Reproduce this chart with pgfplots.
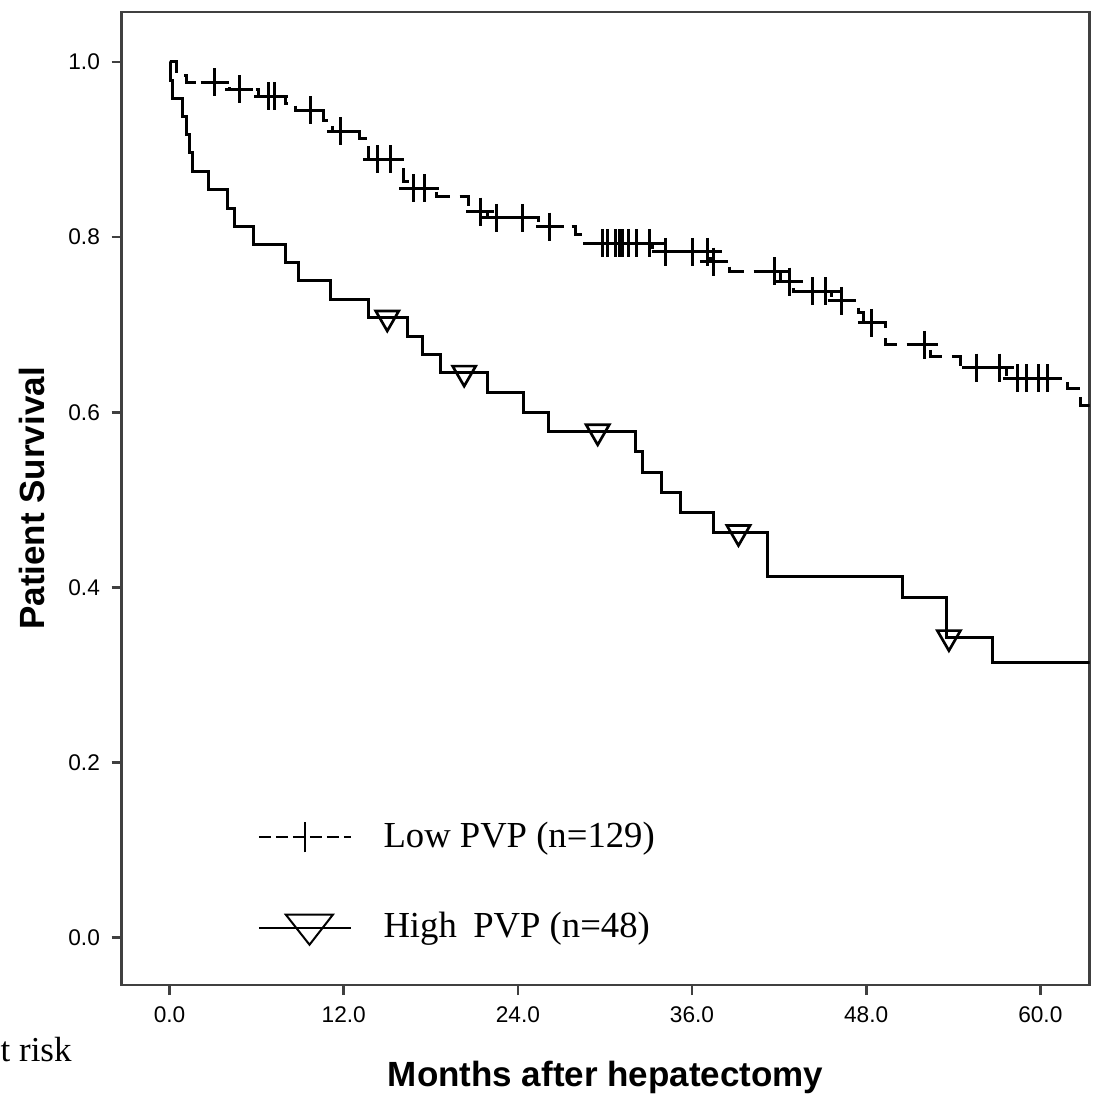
\documentclass[border=0pt]{standalone}
\usepackage{fontspec}
\setmainfont{Liberation Sans}
\newfontfamily\serifrm{Liberation Serif}
\usepackage{pgfplots}
\pgfplotsset{compat=1.18}
\begin{document}
\begin{tikzpicture}
\begin{axis}[
  scale only axis,
  width=290.4pt, height=291.9pt,
  xmin=-3.3, xmax=63.4,
  ymin=-0.054, ymax=1.057,
  xtick={0,12,24,36,48,60},
  ytick={0,0.2,0.4,0.6,0.8,1.0},
  tick pos=left,
  tick align=outside,
  major tick length=3pt,
  /pgf/number format/assume math mode=true,
  xticklabel style={/pgf/number format/.cd, fixed, fixed zerofill, precision=1},
  yticklabel style={/pgf/number format/.cd, fixed, fixed zerofill, precision=1},
  ticklabel style={font=\fontsize{6.8}{8}\selectfont},
  axis line style={draw=black!75, line width=0.8pt},
  every tick/.style={black!75, line width=0.8pt},
  xlabel={Months after hepatectomy},
  ylabel={Patient Survival},
  label style={font=\bfseries\fontsize{10.5}{12}\selectfont},
  xlabel style={at={(axis description cs:0.5,-0.1048)}, anchor=base},
  ylabel style={at={(axis description cs:-0.0928,0.5)}, anchor=center},
  legend style={draw=none, fill=none, at={(axis description cs:0.14,0.175)},
    anchor=north west, font=\serifrm\fontsize{11}{13}\selectfont,
    row sep=14pt, inner sep=0pt,
    /tikz/every odd column/.append style={column sep=7.5pt}},
  legend cell align=left,
]

% Low PVP (n=129), dashed Kaplan-Meier curve
\addplot[const plot, black, line width=0.9pt, dash pattern=on 5.5pt off 3pt,
  legend image code/.code={
    \draw[line width=0.6pt, dash pattern=on 3.6pt off 1.5pt] (0pt,0pt) -- (27.6pt,0pt);
    \draw[line width=0.6pt, solid] (13.8pt,-4.5pt) -- (13.8pt,4.5pt);
  }] coordinates {
  (0,1.0) (0.5,0.984) (1.2,0.977) (4.1,0.969) (6.1,0.961) (8.0,0.953)
  (8.7,0.945) (10.6,0.933) (11.2,0.921) (13.1,0.913) (13.7,0.889)
  (16.1,0.864) (16.7,0.856) (18.4,0.846) (20.6,0.829) (21.9,0.822)
  (25.4,0.812) (28.0,0.803) (28.3,0.793) (33.3,0.783) (37.3,0.772)
  (38.6,0.761) (42.1,0.749) (43.0,0.738) (45.6,0.727) (47.5,0.714)
  (47.8,0.702) (49.3,0.677) (52.4,0.664) (54.5,0.651) (57.7,0.639)
  (61.9,0.627) (62.8,0.608) (64,0.608)
};
\addlegendentry{Low PVP (n=129)}

% High PVP (n=48), solid curve
\addplot[const plot, black, line width=0.9pt, solid,
  legend image code/.code={
    \draw[line width=0.6pt, solid] (0pt,0pt) -- (27.6pt,0pt);
    \draw[line width=0.6pt, solid] (8.1pt,3.9pt) -- (22.2pt,3.9pt) -- (15.2pt,-5.1pt) -- cycle;
  }] coordinates {
  (0,1.0) (0.05,0.979) (0.2,0.958) (0.9,0.9375) (1.15,0.917) (1.4,0.896)
  (1.6,0.875) (2.7,0.854) (4.0,0.833) (4.5,0.8125) (5.8,0.792) (8.0,0.771)
  (8.9,0.750) (11.1,0.729) (13.7,0.708) (16.4,0.686) (17.4,0.666)
  (18.7,0.645) (21.9,0.622) (24.4,0.600) (26.1,0.578) (32.1,0.555)
  (32.6,0.531) (33.9,0.508) (35.2,0.486) (37.5,0.463) (41.2,0.412)
  (50.5,0.389) (53.5,0.343) (56.7,0.314) (64,0.314)
};
\addlegendentry{High\hspace{0.45em}PVP (n=48)}

% censored cases
\addplot[only marks, black, mark=+, mark size=4.2pt, line width=0.9pt, forget plot] coordinates {
  (3.1,0.977) (4.8,0.969) (6.8,0.961) (7.2,0.961) (9.7,0.945) (11.8,0.921)
  (14.3,0.889) (15.2,0.889) (16.8,0.856) (17.6,0.856) (21.4,0.829)
  (22.5,0.822) (24.3,0.822) (26.2,0.812) (29.8,0.793) (30.2,0.793)
  (30.7,0.793) (31.0,0.793) (31.2,0.793) (31.6,0.793) (32.2,0.793)
  (33.1,0.793) (34.2,0.783) (36.0,0.783) (37.1,0.783) (37.5,0.772)
  (41.7,0.761) (42.7,0.749) (44.3,0.738) (45.2,0.738) (46.3,0.727)
  (48.4,0.702) (52.0,0.677) (55.6,0.651) (57.2,0.651) (58.4,0.639)
  (59.05,0.639) (59.9,0.639) (60.5,0.639)
};
\addplot[only marks, black, mark=triangle, mark size=4pt,
  mark options={rotate=180, line width=0.8pt}, forget plot] coordinates {
  (15.0,0.708) (20.3,0.645) (29.5,0.578) (39.2,0.463) (53.7,0.343)
};

\coordinate (SW) at (rel axis cs:0,0);
\coordinate (NE) at (rel axis cs:1,1);
\end{axis}
\node[anchor=base west, inner sep=0pt, font=\serifrm\fontsize{10.5}{12}\selectfont]
  at ([shift={(-36.5pt,-23.1pt)}]SW) {t risk};
\pgfresetboundingbox
\path ([shift={(-36.5pt,-33pt)}]SW) rectangle ([shift={(1.5pt,3.6pt)}]NE);
\end{tikzpicture}
\end{document}
